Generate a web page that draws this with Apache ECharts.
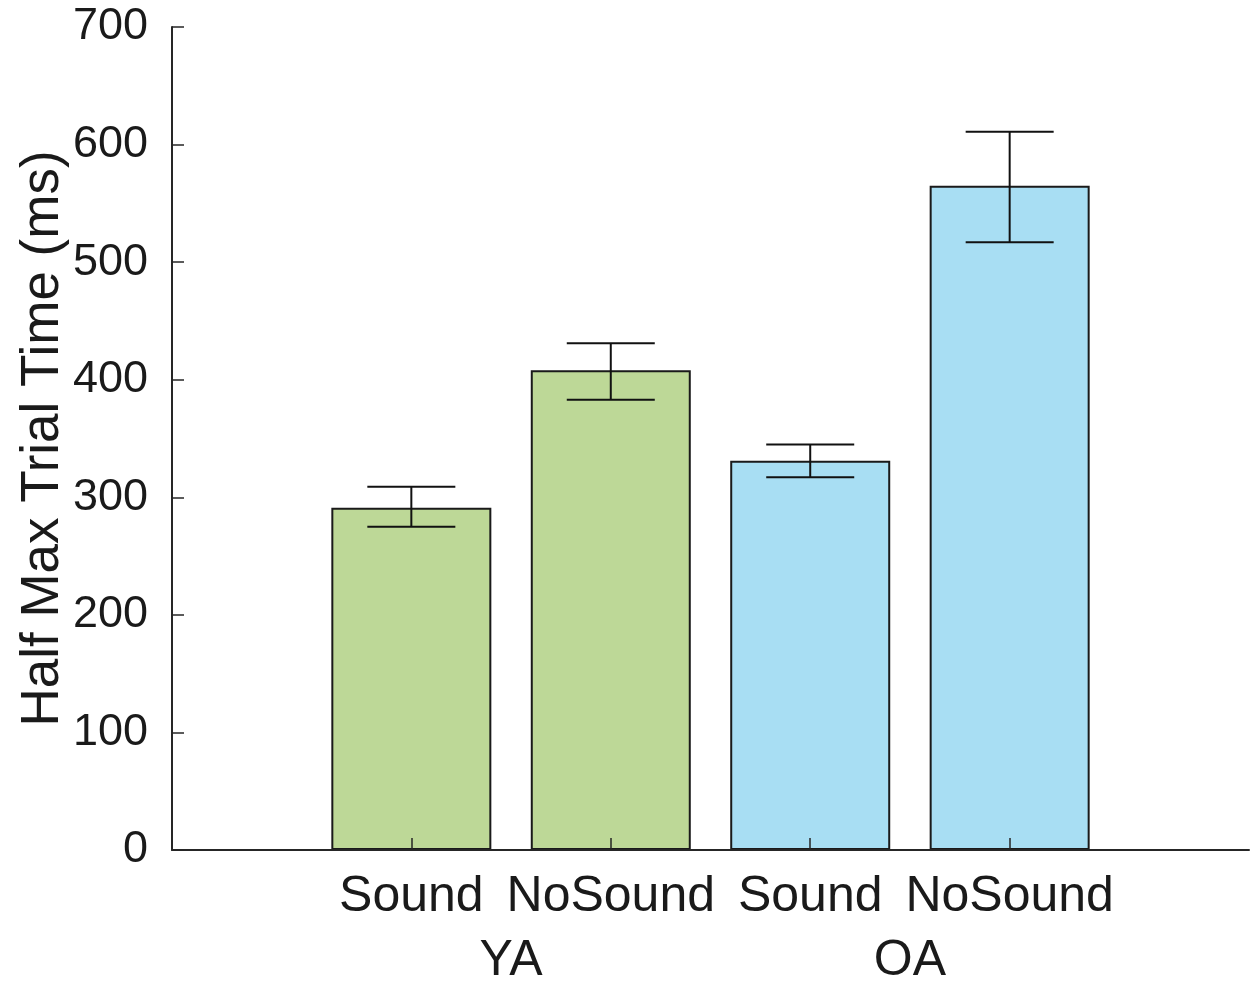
<!DOCTYPE html>
<html>
<head>
<meta charset="utf-8">
<script src="https://cdn.jsdelivr.net/npm/echarts@6/dist/echarts.min.js"></script>
<style>html,body{margin:0;padding:0;background:#fff;}#chart{width:1256px;height:986px;}</style>
</head>
<body>
<div id="chart"></div>
<script>
const conditions = ['Sound', 'NoSound', 'Sound', 'NoSound'];
const groups = ['YA', 'OA'];
const positions = [1, 2, 3, 4];
const groupPositions = [1.5, 3.5];
const means = [291, 408, 331, 565];
const errLow = [275, 383, 317, 517];
const errHigh = [309, 431, 345, 611];
const yTicks = [0, 100, 200, 300, 400, 500, 600, 700];
const barColors = ['#BDD897', '#BDD897', '#A8DEF3', '#A8DEF3'];

const chart = echarts.init(document.getElementById('chart'));
const font = 'Liberation Sans, Arial, Helvetica, sans-serif';

chart.setOption({
  animation: false,
  grid: { left: 172, right: 7, top: 27, bottom: 136, containLabel: false },
  xAxis: [{
    type: 'value', min: -0.2, max: 5.2, z: 5,
    axisLine: { show: true, onZero: false, lineStyle: { color: '#262626', width: 2 } },
    axisTick: { show: true, inside: true, length: 12, customValues: positions, lineStyle: { color: '#262626', width: 1.5 } },
    axisLabel: { customValues: positions, formatter: v => conditions[positions.indexOf(v)] || '', fontSize: 50, fontFamily: font, color: '#1a1a1a', margin: 22 },
    splitLine: { show: false }
  }, {
    type: 'value', min: -0.2, max: 5.2, position: 'bottom', offset: 64,
    axisLine: { show: false, onZero: false }, axisTick: { show: false },
    axisLabel: { customValues: groupPositions, formatter: v => groups[groupPositions.indexOf(v)] || '', fontSize: 50, fontFamily: font, color: '#1a1a1a', margin: 22 },
    splitLine: { show: false }
  }],
  yAxis: {
    type: 'value', min: 0, max: 700, interval: 100, z: 5,
    name: 'Half Max Trial Time (ms)', nameLocation: 'middle', nameGap: 102, nameMoveOverlap: false,
    nameTextStyle: { fontSize: 53, fontFamily: font, color: '#1a1a1a' },
    axisLine: { show: true, onZero: false, lineStyle: { color: '#262626', width: 2 } },
    axisTick: { show: true, inside: true, length: 12, lineStyle: { color: '#262626', width: 1.5 } },
    axisLabel: { fontSize: 45, fontFamily: font, color: '#1a1a1a', margin: 24,
      formatter: v => (yTicks.indexOf(v) >= 0 ? String(v) : '') },
    splitLine: { show: false }
  },
  series: [{
    type: 'bar', barWidth: 160,
    data: positions.map((p, i) => ({ value: [p, means[i]], itemStyle: { color: barColors[i] } })),
    itemStyle: { borderColor: '#1a1a1a', borderWidth: 2 }
  }, {
    type: 'custom', z: 10,
    data: positions.map((p, i) => [p, errLow[i], errHigh[i]]),
    renderItem: (params, api) => {
      const x = api.value(0);
      const lo = api.coord([x, api.value(1)]);
      const hi = api.coord([x, api.value(2)]);
      const half = 44;
      const st = { stroke: '#111', lineWidth: 2 };
      return { type: 'group', children: [
        { type: 'line', shape: { x1: lo[0], y1: lo[1], x2: hi[0], y2: hi[1] }, style: st },
        { type: 'line', shape: { x1: lo[0] - half, y1: lo[1], x2: lo[0] + half, y2: lo[1] }, style: st },
        { type: 'line', shape: { x1: hi[0] - half, y1: hi[1], x2: hi[0] + half, y2: hi[1] }, style: st }
      ]};
    }
  }]
});
</script>
</body>
</html>
